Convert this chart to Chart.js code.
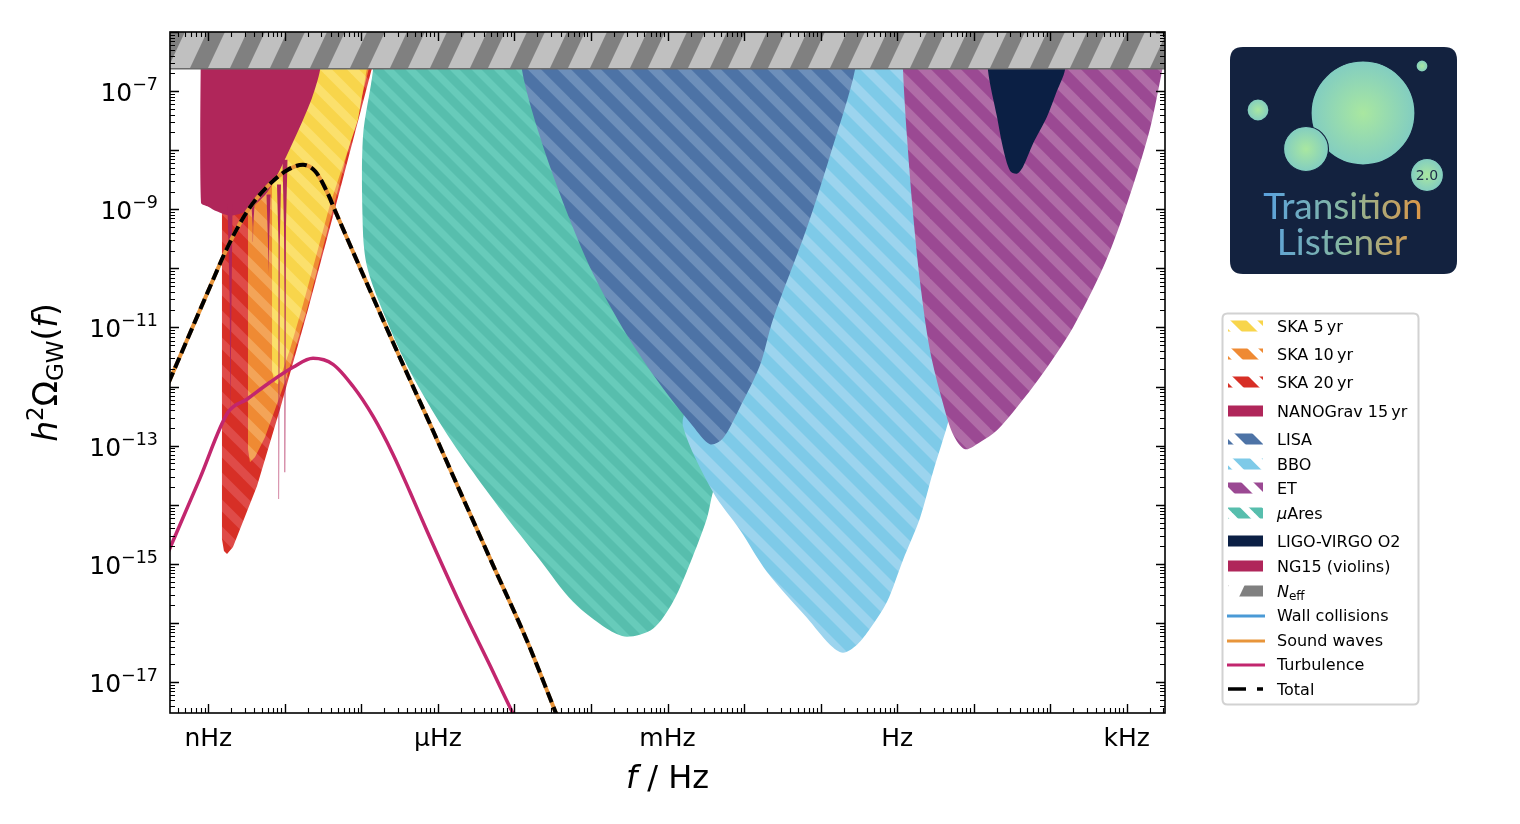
<!DOCTYPE html>
<html>
<head>
<meta charset="utf-8">
<title>GW spectrum vs detector sensitivities</title>
<script src="https://cdn.jsdelivr.net/npm/chart.js@4.4.1/dist/chart.umd.min.js"></script>
<style>
  html, body { margin: 0; padding: 0; background: #fff; }
  canvas { display: block; }
</style>
</head>
<body>
<canvas id="gw" width="1520" height="824"></canvas>
<script>

// axis ranges in log10 units
const freqRange = [-9.5, 3.5];
const omegaRange = [-17.5, -6];

const freqLabelExps = [-9, -6, -3, 0, 3];
const freqLabels = ['nHz', 'μHz', 'mHz', 'Hz', 'kHz'];
const omegaLabelExps = [-17, -15, -13, -11, -9, -7];

// spectra: [log10 f/Hz, log10 h^2 Omega_GW]
const soundWaves = [
  [-9.6, -12.18], [-9.5, -11.88], [-9.2, -10.98], [-8.977, -10.31], [-8.755, -9.66],
  [-8.494, -9.04], [-8.233, -8.62], [-7.971, -8.34], [-7.762, -8.246], [-7.60, -8.36],
  [-7.45, -8.70], [-7.344, -9.02], [-7.122, -9.68], [-6.587, -11.25], [-6.142, -12.52],
  [-5.685, -13.85], [-5.280, -15.02], [-4.836, -16.30], [-4.496, -17.40], [-4.25, -18.2]
];
const totalSpectrum = [
  [-9.6, -12.18], [-9.5, -11.88], [-9.2, -10.98], [-8.977, -10.31], [-8.755, -9.66],
  [-8.494, -9.04], [-8.233, -8.62], [-7.971, -8.34], [-7.762, -8.246], [-7.60, -8.36],
  [-7.45, -8.70], [-7.344, -9.02], [-7.122, -9.68], [-6.587, -11.25], [-6.142, -12.52],
  [-5.685, -13.85], [-5.280, -15.02], [-4.836, -16.30], [-4.496, -17.40], [-4.25, -18.2]
];
const turbulence = [
  [-9.6, -15.03], [-9.5, -14.730], [-9.108, -13.548], [-8.742, -12.434], [-8.494, -12.214],
  [-8.194, -11.927], [-7.893, -11.674], [-7.632, -11.522], [-7.370, -11.623], [-7.109, -11.995],
  [-6.848, -12.501], [-6.587, -13.143], [-6.364, -13.784], [-6.142, -14.443], [-5.711, -15.676],
  [-5.280, -16.824], [-5.032, -17.499], [-4.862, -17.955]
];
const wallCollisions = []; // below the plotted range

// sensitivity regions (outlines, filled inside)
const ska20 = [
  [-8.821, -5.8], [-8.821, -14.578], [-8.795, -14.781], [-8.755, -14.831], [-8.677, -14.713],
  [-8.363, -13.683], [-8.063, -12.383], [-7.697, -10.694], [-7.279, -8.668], [-6.861, -6.608], [-6.689, -5.8]
];
const ska10 = [
  [-8.481, -5.8], [-8.481, -13.058], [-8.455, -13.278], [-8.389, -13.193], [-8.259, -12.856],
  [-7.971, -11.826], [-7.710, -10.694], [-7.305, -8.668], [-6.900, -6.608], [-6.734, -5.8]
];
const ska5 = [
  [-8.167, -5.8], [-8.167, -11.741], [-8.13, -11.93], [-8.089, -11.961], [-7.932, -11.370],
  [-7.762, -10.610], [-7.410, -8.921], [-7.044, -7.486], [-6.926, -6.608], [-6.757, -5.8]
];
const nanograv15 = [
  [-9.095, -5.8], [-9.095, -8.888], [-9.0, -8.955], [-8.890, -9.034], [-8.716, -9.107],
  [-8.498, -9.034], [-8.237, -8.724], [-8.063, -8.330], [-7.802, -7.604], [-7.645, -7.115],
  [-7.540, -6.642], [-7.488, -5.8]
];
const ng15Violins = [
  [[-8.749, -8.92], [-8.683, -8.92], [-8.696, -10.53], [-8.712, -12.55], [-8.720, -10.53], [-8.736, -9.6]],
  [[-8.436, -8.92], [-8.396, -8.92], [-8.413, -9.30], [-8.416, -9.55], [-8.419, -9.30]],
  [[-8.239, -8.75], [-8.187, -8.75], [-8.205, -9.5], [-8.213, -10.10], [-8.221, -9.5]],
  [[-8.102, -8.58], [-8.050, -8.58], [-8.066, -9.6], [-8.074, -10.44], [-8.0757, -13.90], [-8.0763, -13.90], [-8.078, -10.44], [-8.086, -9.6]],
  [[-8.031, -8.16], [-7.965, -8.16], [-7.985, -9.3], [-7.992, -10.53], [-7.997, -13.45], [-7.999, -13.45], [-8.004, -10.53], [-8.011, -9.3]]
];
const muAres = [
  [-6.822, -5.797], [-6.848, -6.642], [-6.979, -7.773], [-6.979, -9.377], [-6.926, -9.968],
  [-6.756, -10.610], [-6.404, -11.640], [-5.972, -12.619], [-5.541, -13.447], [-5.097, -14.223],
  [-4.666, -14.933], [-4.235, -15.642], [-3.791, -16.098], [-3.529, -16.233], [-3.190, -16.098],
  [-2.928, -15.642], [-2.667, -14.865], [-2.484, -14.223], [-2.406, -13.784], [-2.184, -12.889],
  [-1.792, -11.370], [-1.400, -9.681], [-1.008, -7.993], [-0.681, -5.797]
];
const lisa = [
  [-4.927, -5.797], [-4.901, -6.642], [-4.666, -7.773], [-4.313, -9.056], [-3.974, -10.086],
  [-3.529, -11.133], [-3.098, -11.961], [-2.667, -12.670], [-2.445, -12.974], [-2.275, -12.873],
  [-2.053, -12.349], [-1.792, -11.640], [-1.622, -10.863], [-1.178, -9.310], [-0.877, -8.094],
  [-0.551, -6.642], [-0.511, -5.797]
];
const bbo = [
  [-1.988, -5.797], [-2.314, -8.837], [-2.510, -10.525], [-2.640, -11.707], [-2.720, -12.214],
  [-2.798, -12.670], [-2.406, -13.784], [-2.053, -14.426], [-1.700, -15.135], [-1.178, -15.912],
  [-0.877, -16.368], [-0.707, -16.503], [-0.524, -16.368], [-0.355, -16.098], [-0.132, -15.642],
  [0.077, -14.933], [0.299, -14.223], [0.469, -13.447], [0.652, -12.670], [0.821, -11.876],
  [1.213, -9.681], [1.736, -5.797]
];
const et = [
  [0.064, -5.797], [0.077, -6.642], [0.129, -7.773], [0.207, -9.056], [0.299, -10.222],
  [0.429, -11.387], [0.599, -12.282], [0.730, -12.805], [0.887, -13.058], [1.083, -12.940],
  [1.305, -12.738], [1.566, -12.349], [1.867, -11.843], [2.298, -10.998], [2.742, -9.833],
  [3.082, -8.600], [3.304, -7.638], [3.461, -6.659], [3.591, -5.797]
];
const ligoO2 = [
  [1.174, -5.797], [1.187, -6.642], [1.305, -7.435], [1.383, -7.959], [1.475, -8.347],
  [1.566, -8.398], [1.645, -8.280], [1.775, -7.891], [1.958, -7.435], [2.089, -6.996],
  [2.193, -6.642], [2.259, -5.797]
];
const neffBound = [[-9.7, -6.62], [3.7, -6.62], [3.7, -5.7], [-9.7, -5.7]];


const canvas = document.getElementById('gw');
const ctx = canvas.getContext('2d');

// diagonal "\" stripes, light is optional (legend patches leave it empty)
function stripes(dark, light, period, frac) {
  const tile = document.createElement('canvas');
  tile.width = tile.height = period;
  const g = tile.getContext('2d');
  if (light) {
    g.fillStyle = light;
    g.fillRect(0, 0, period, period);
  }
  g.strokeStyle = dark;
  g.lineWidth = period / Math.SQRT2 * frac;
  for (let k = -1; k <= 1; k++) {
    g.beginPath();
    g.moveTo(k * period - period, -period);
    g.lineTo(k * period + 2 * period, 2 * period);
    g.stroke();
  }
  return ctx.createPattern(tile, 'repeat');
}

// steep "/" stripes for the N_eff band
function slashStripes(base, stripe, w, h, sw) {
  const tile = document.createElement('canvas');
  tile.width = w; tile.height = h;
  const g = tile.getContext('2d');
  if (base) {
    g.fillStyle = base;
    g.fillRect(0, 0, w, h);
  }
  g.fillStyle = stripe;
  for (let k = -1; k <= 1; k++) {
    g.beginPath();
    g.moveTo(k * w, h);
    g.lineTo(k * w + sw, h);
    g.lineTo(k * w + sw + w, 0);
    g.lineTo(k * w + w, 0);
    g.closePath();
    g.fill();
  }
  return ctx.createPattern(tile, 'repeat');
}

const fills = {
  ska5: stripes('#f8d54b', '#fbe06c', 27, 0.55),
  ska10: stripes('#ef8a33', '#f3a458', 27, 0.55),
  ska20: stripes('#d72f26', '#df4b48', 27, 0.55),
  muAres: stripes('#57bead', '#67cbba', 22, 0.55),
  lisa: stripes('#4d73a6', '#6d8fba', 30, 0.55),
  bbo: stripes('#7ecae8', '#9cd4ee', 29, 0.55),
  et: stripes('#9b4993', '#b06ca7', 30, 0.55),
  neff: slashStripes('#808080', '#c0c0c0', 40, 85, 22)
};
const legendFills = {
  ska5: stripes('#f8d54b', null, 27, 0.6),
  ska10: stripes('#ef8a33', null, 27, 0.6),
  ska20: stripes('#d72f26', null, 27, 0.6),
  muAres: stripes('#57bead', null, 22, 0.6),
  lisa: stripes('#4d73a6', null, 30, 0.6),
  bbo: stripes('#7ecae8', null, 29, 0.6),
  et: stripes('#9b4993', null, 30, 0.6),
  neff: slashStripes(null, '#808080', 40, 85, 24)
};

const crimson = '#b0265a';
const ligoNavy = '#0b1f44';
const wallBlue = '#4a9ad6';
const soundOrange = '#e8953b';
const turbPink = '#c2266e';

function toPoints(arr) {
  return arr.map(([lf, lo]) => ({ x: Math.pow(10, lf), y: Math.pow(10, lo) }));
}

function region(label, arr, fill, order, tension) {
  return {
    label, data: toPoints(arr), showLine: true, fill: 'shape',
    backgroundColor: fill, borderColor: 'rgba(0,0,0,0)', borderWidth: 0,
    pointRadius: 0, tension: tension || 0, order
  };
}

function curve(label, arr, color, width, dash, order) {
  return {
    label, data: toPoints(arr), showLine: true, fill: false,
    borderColor: color, borderWidth: width, borderDash: dash || [],
    borderCapStyle: 'butt', pointRadius: 0, cubicInterpolationMode: 'monotone', order
  };
}

const datasets = [
  region('SKA 20 yr', ska20, fills.ska20, 40),
  region('SKA 10 yr', ska10, fills.ska10, 39),
  region('SKA 5 yr', ska5, fills.ska5, 38),
  region('NANOGrav 15 yr', nanograv15, crimson, 37, 0.25),
  region('μAres', muAres, fills.muAres, 30, 0.3),
  region('BBO', bbo, fills.bbo, 29, 0.3),
  region('LISA', lisa, fills.lisa, 28, 0.3),
  region('ET', et, fills.et, 27, 0.3),
  region('LIGO-VIRGO O2', ligoO2, ligoNavy, 26, 0.3),
  Object.assign(region('Neff', neffBound, fills.neff, 20), { borderColor: '#6a6a6a', borderWidth: 1.5 }),
  curve('Wall collisions', wallCollisions, wallBlue, 3, null, 5),
  curve('Turbulence', turbulence, turbPink, 3.5, null, 4),
  curve('Sound waves', soundWaves, soundOrange, 4, null, 3),
  curve('Total', totalSpectrum, '#000', 4, [11, 5], 2)
];
ng15Violins.forEach((v, i) => datasets.push(region('NG15 (violins)', v, crimson, 36 - i * 0.1)));


function drawRuns(g, runs, x, y, align) {
  let w = 0;
  runs.forEach(r => { g.font = r.font; r.w = g.measureText(r.text).width; w += r.w; });
  let cx = align === 'right' ? x - w : (align === 'center' ? x - w / 2 : x);
  runs.forEach(r => {
    g.font = r.font;
    g.fillText(r.text, cx, y + (r.dy || 0));
    cx += r.w;
  });
}

function roundRect(g, x, y, w, h, r) {
  g.beginPath();
  g.moveTo(x + r, y);
  g.lineTo(x + w - r, y);
  g.quadraticCurveTo(x + w, y, x + w, y + r);
  g.lineTo(x + w, y + h - r);
  g.quadraticCurveTo(x + w, y + h, x + w - r, y + h);
  g.lineTo(x + r, y + h);
  g.quadraticCurveTo(x, y + h, x, y + h - r);
  g.lineTo(x, y + r);
  g.quadraticCurveTo(x, y, x + r, y);
  g.closePath();
}

function drawTicks(g, chart) {
  const { left, right, top, bottom } = chart.chartArea;
  const xs = chart.scales.x, ys = chart.scales.y;
  g.strokeStyle = '#000';
  for (let e = Math.floor(freqRange[0]); e <= Math.ceil(freqRange[1]); e++) {
    for (let m = 1; m <= 9; m++) {
      const lv = e + Math.log10(m);
      if (lv < freqRange[0] || lv > freqRange[1]) continue;
      const px = Math.round(xs.getPixelForValue(m * Math.pow(10, e))) + 0.5;
      const len = m === 1 ? 9 : 5;
      g.lineWidth = m === 1 ? 1.4 : 1.1;
      g.beginPath();
      g.moveTo(px, bottom); g.lineTo(px, bottom - len);
      g.moveTo(px, top); g.lineTo(px, top + len);
      g.stroke();
    }
  }
  for (let e = Math.floor(omegaRange[0]); e <= Math.ceil(omegaRange[1]); e++) {
    for (let m = 1; m <= 9; m++) {
      const lv = e + Math.log10(m);
      if (lv < omegaRange[0] || lv > omegaRange[1]) continue;
      const py = Math.round(ys.getPixelForValue(m * Math.pow(10, e))) + 0.5;
      const len = m === 1 ? 9 : 5;
      g.lineWidth = m === 1 ? 1.4 : 1.1;
      g.beginPath();
      g.moveTo(left, py); g.lineTo(left + len, py);
      g.moveTo(right, py); g.lineTo(right - len, py);
      g.stroke();
    }
  }

  g.fillStyle = '#000';
  g.textBaseline = 'alphabetic';
  g.textAlign = 'left';
  freqLabelExps.forEach((e, i) => {
    const px = xs.getPixelForValue(Math.pow(10, e));
    drawRuns(g, [{ text: freqLabels[i], font: '25px "DejaVu Sans"' }], px, bottom + 33, 'center');
  });
  omegaLabelExps.forEach(e => {
    const py = ys.getPixelForValue(Math.pow(10, e));
    drawRuns(g, [
      { text: '10', font: '25px "DejaVu Sans"' },
      { text: '\u2212' + Math.abs(e), font: '17.5px "DejaVu Sans"', dy: -11 }
    ], left - 12, py + 10, 'right');
  });

  // axis titles
  drawRuns(g, [
    { text: 'f', font: 'italic 32px "DejaVu Sans"' },
    { text: ' / Hz', font: '32px "DejaVu Sans"' }
  ], (left + right) / 2, 788, 'center');

  g.save();
  g.translate(57, (top + bottom) / 2);
  g.rotate(-Math.PI / 2);
  drawRuns(g, [
    { text: 'h', font: 'italic 33px "DejaVu Sans"' },
    { text: '2', font: '23px "DejaVu Sans"', dy: -14 },
    { text: 'Ω', font: '33px "DejaVu Sans"' },
    { text: 'GW', font: '23px "DejaVu Sans"', dy: 6 },
    { text: '(', font: '33px "DejaVu Sans"' },
    { text: 'f', font: 'italic 33px "DejaVu Sans"' },
    { text: ')', font: '33px "DejaVu Sans"' }
  ], 0, 0, 'center');
  g.restore();

  g.lineWidth = 1.6;
  g.strokeRect(left, top, right - left, bottom - top);
}

function drawLegend(g) {
  const rows = [326, 354, 382, 411, 439, 464, 488, 513, 541, 566, 591, 615, 640, 664, 689];
  const items = [
    { kind: 'patch', fill: legendFills.ska5, runs: [{ text: 'SKA 5\u2009yr' }] },
    { kind: 'patch', fill: legendFills.ska10, runs: [{ text: 'SKA 10\u2009yr' }] },
    { kind: 'patch', fill: legendFills.ska20, runs: [{ text: 'SKA 20\u2009yr' }] },
    { kind: 'patch', fill: crimson, runs: [{ text: 'NANOGrav 15\u2009yr' }] },
    { kind: 'patch', fill: legendFills.lisa, runs: [{ text: 'LISA' }] },
    { kind: 'patch', fill: legendFills.bbo, runs: [{ text: 'BBO' }] },
    { kind: 'patch', fill: legendFills.et, runs: [{ text: 'ET' }] },
    { kind: 'patch', fill: legendFills.muAres, runs: [{ text: 'μ', italic: true }, { text: 'Ares' }] },
    { kind: 'patch', fill: ligoNavy, runs: [{ text: 'LIGO-VIRGO O2' }] },
    { kind: 'patch', fill: crimson, runs: [{ text: 'NG15 (violins)' }] },
    { kind: 'patch', fill: legendFills.neff, runs: [{ text: 'N', italic: true }, { text: 'eff', small: true }] },
    { kind: 'line', color: wallBlue, runs: [{ text: 'Wall collisions' }] },
    { kind: 'line', color: soundOrange, runs: [{ text: 'Sound waves' }] },
    { kind: 'line', color: turbPink, runs: [{ text: 'Turbulence' }] },
    { kind: 'dash', color: '#000', runs: [{ text: 'Total' }] }
  ];

  g.fillStyle = '#fff';
  roundRect(g, 1222.5, 313.5, 196, 391, 5);
  g.fill();
  g.strokeStyle = '#d2d2d2';
  g.lineWidth = 2;
  g.stroke();

  items.forEach((it, i) => {
    const y = rows[i];
    if (it.kind === 'patch') {
      g.fillStyle = it.fill;
      g.fillRect(1228, y - 5.5, 35, 11);
    } else if (it.kind === 'line') {
      g.strokeStyle = it.color;
      g.lineWidth = 3;
      g.beginPath(); g.moveTo(1227, y + 1); g.lineTo(1265, y + 1); g.stroke();
    } else {
      g.strokeStyle = it.color;
      g.lineWidth = 3.5;
      g.beginPath();
      g.moveTo(1228, y); g.lineTo(1246, y);
      g.moveTo(1257, y); g.lineTo(1263, y);
      g.stroke();
    }
    g.fillStyle = '#000';
    drawRuns(g, it.runs.map(r => ({
      text: r.text,
      font: r.small ? '12px "DejaVu Sans"' : (r.italic ? 'italic 16px "DejaVu Sans"' : '16px "DejaVu Sans"'),
      dy: r.small ? 3 : 0
    })), 1277, y + 6, 'left');
  });
}

function drawLogo(g) {
  g.fillStyle = '#13223f';
  roundRect(g, 1230, 47, 227, 227, 13);
  g.fill();

  const bubbles = [[1363, 113, 52], [1306, 149, 22.5], [1258, 110, 11], [1422, 66, 6], [1427, 175, 16.5]];
  bubbles.forEach(([x, y, r]) => {
    const grad = g.createRadialGradient(x, y, 0, x, y, r);
    grad.addColorStop(0, '#a9e7a0');
    grad.addColorStop(1, '#82cdc1');
    g.fillStyle = grad;
    g.beginPath(); g.arc(x, y, r, 0, Math.PI * 2); g.fill();
    g.strokeStyle = '#13223f';
    g.lineWidth = 1.2;
    g.stroke();
  });
  g.fillStyle = '#1d2c48';
  g.textAlign = 'center';
  g.font = '14px "DejaVu Sans"';
  g.fillText('2.0', 1427, 180);

  const tg = g.createLinearGradient(1260, 0, 1428, 0);
  tg.addColorStop(0, '#58a0e0');
  tg.addColorStop(0.5, '#86b7a0');
  tg.addColorStop(1, '#e3943f');
  g.fillStyle = tg;
  g.font = '37px Lato';
  g.fillText('Transition', 1343, 219);
  g.fillText('Listener', 1342, 255);
  g.textAlign = 'left';
}

const decorations = {
  id: 'decorations',
  afterDraw(chart) {
    const g = chart.ctx;
    g.save();
    drawTicks(g, chart);
    drawLegend(g);
    drawLogo(g);
    g.restore();
  }
};

new Chart(ctx, {
  type: 'scatter',
  data: { datasets },
  options: {
    responsive: false,
    animation: false,
    devicePixelRatio: 1,
    layout: { padding: { left: 170, top: 32, right: 355, bottom: 111 } },
    scales: {
      x: { type: 'logarithmic', min: Math.pow(10, freqRange[0]), max: Math.pow(10, freqRange[1]), display: false },
      y: { type: 'logarithmic', min: Math.pow(10, omegaRange[0]), max: Math.pow(10, omegaRange[1]), display: false }
    },
    plugins: { legend: { display: false }, tooltip: { enabled: false } },
    elements: { point: { radius: 0 } }
  },
  plugins: [decorations]
});
</script>
</body>
</html>
